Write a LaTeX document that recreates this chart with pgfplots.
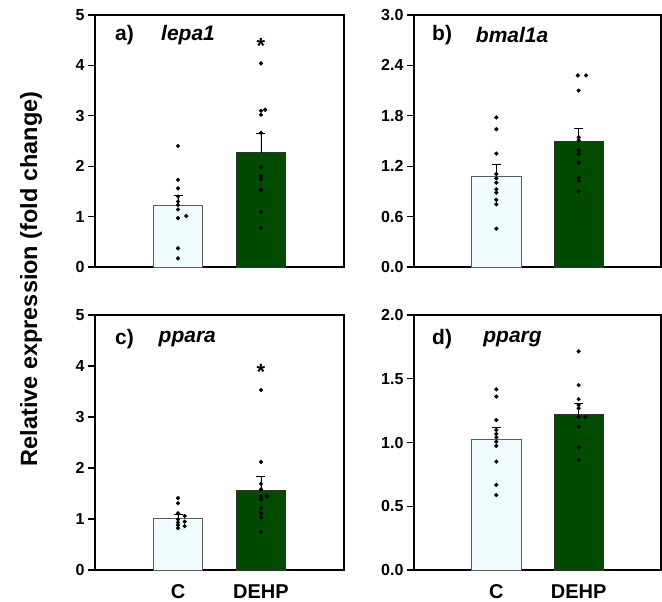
\documentclass[border=0pt]{standalone}
\usepackage{pgfplots}
\pgfplotsset{compat=1.18}
\usepackage{fontspec}
\setmainfont{Liberation Sans}

\definecolor{ctrl}{RGB}{240,252,255}
\definecolor{dehp}{RGB}{0,75,0}
\definecolor{ctrledge}{RGB}{90,90,90}

\pgfplotsset{
  panel/.style={
    scale only axis, clip=false,
    xmin=0, xmax=3, ymin=0,
    axis line style={line width=1.3pt},
    tick align=outside, ytick pos=left,
    xtick=\empty,
    major tick length=7pt,
    tick style={line width=1.2pt, black},
    ticklabel style={font=\bfseries\fontsize{16}{16}\selectfont},
    /pgf/number format/assume math mode=true,
  },
  bottomrow/.style={
    xtick={1,2}, xticklabels={C,DEHP},
    x tick style={draw=none},
    x tick label style={font=\bfseries\fontsize{20}{20}\selectfont, yshift=-4pt},
  },
  cbar/.style={ybar, bar shift=0pt, bar width=0.6, fill=ctrl, draw=ctrledge, line width=0.8pt,
    error bars/.cd, y dir=plus, y explicit,
    error bar style={black, line width=0.8pt},
    error mark options={rotate=90, mark size=4.5pt, black, line width=0.8pt}},
  dbar/.style={ybar, bar shift=0pt, bar width=0.6, fill=dehp, draw=black!80, line width=0.8pt,
    error bars/.cd, y dir=plus, y explicit,
    error bar style={black, line width=0.8pt},
    error mark options={rotate=90, mark size=4.5pt, black, line width=0.8pt}},
  dots/.style={only marks, mark=*, mark size=1.9pt, black},
}
\tikzset{
  plabel/.style={font=\bfseries\fontsize{21}{21}\selectfont, anchor=west, inner xsep=0pt},
  gene/.style={font=\bfseries\itshape\fontsize{21}{21}\selectfont, anchor=west, inner xsep=0pt},
  star/.style={font=\bfseries\fontsize{22}{22}\selectfont},
}

\begin{document}
\begin{tikzpicture}
\useasboundingbox (0,0) rectangle (662pt,602pt);

% a) lepa1
\begin{axis}[panel, at={(95pt,335pt)}, anchor=south west, width=249pt, height=252pt,
  ymax=5, ytick={0,1,2,3,4,5}]
  \addplot[cbar] coordinates {(1,1.22) +- (0,0.21)};
  \addplot[dbar] coordinates {(2,2.27) +- (0,0.39)};
  \addplot[dots] coordinates {(1,2.40) (1,1.73) (1,1.56) (1,1.40) (1,1.30) (1,1.23)
    (1,1.14) (1,0.97) (1.1,1.01) (1,0.37) (1,0.17)};
  \addplot[dots] coordinates {(2,4.04) (2,3.10) (2.05,3.12) (2,3.02) (2,2.66) (2,1.98)
    (2,1.81) (2,1.74) (2,1.53) (2,1.09) (2,0.77)};
  \node[star] at (axis cs:2,4.38) {*};
  \node[plabel] at (rel axis cs:0.08,0.92) {a)};
  \node[gene] at (rel axis cs:0.265,0.92) {lepa1};
\end{axis}

% b) bmal1a
\begin{axis}[panel, at={(414pt,335pt)}, anchor=south west, width=247pt, height=252pt,
  ymax=3, ytick={0,0.6,1.2,1.8,2.4,3.0},
  yticklabel style={/pgf/number format/.cd, fixed, fixed zerofill, precision=1}]
  \addplot[cbar] coordinates {(1,1.083) +- (0,0.143)};
  \addplot[dbar] coordinates {(2,1.49) +- (0,0.165)};
  \addplot[dots] coordinates {(1,1.78) (1,1.64) (1,1.35) (1,1.107) (1,1.056) (1,1.004)
    (1,0.925) (1,0.885) (1,0.80) (1,0.746) (1,0.456)};
  \addplot[dots] coordinates {(1.99,2.28) (2.09,2.28) (2,2.10) (2,1.544) (2,1.51) (2,1.39)
    (2,1.345) (2,1.24) (2,1.063) (2,1.024) (2,0.90)};
  \node[plabel] at (rel axis cs:0.073,0.92) {b)};
  \node[gene] at (rel axis cs:0.25,0.92) {bmal1a};
\end{axis}

% c) ppara
\begin{axis}[panel, bottomrow, at={(95pt,32pt)}, anchor=south west, width=249pt, height=255pt,
  ymax=5, ytick={0,1,2,3,4,5}]
  \addplot[cbar] coordinates {(1,1.02) +- (0,0.065)};
  \addplot[dbar] coordinates {(2,1.57) +- (0,0.27)};
  \addplot[dots] coordinates {(1,1.41) (1,1.31) (1,1.11) (1.08,1.06) (1,0.99) (1,0.93)
    (1.08,0.95) (1,0.88) (1.08,0.86) (1,0.82)};
  \addplot[dots] coordinates {(2,3.53) (2,2.12) (2,1.69) (2,1.58) (2,1.45) (2.07,1.45)
    (2,1.39) (2,1.21) (2,1.11) (2,1.03) (2,0.74)};
  \node[star] at (axis cs:2,3.88) {*};
  \node[plabel] at (rel axis cs:0.08,0.906) {c)};
  \node[gene] at (rel axis cs:0.255,0.906) {ppara};
\end{axis}

% d) pparg
\begin{axis}[panel, bottomrow, at={(414pt,32pt)}, anchor=south west, width=247pt, height=255pt,
  ymax=2, ytick={0,0.5,1.0,1.5,2.0},
  yticklabel style={/pgf/number format/.cd, fixed, fixed zerofill, precision=1}]
  \addplot[cbar] coordinates {(1,1.025) +- (0,0.091)};
  \addplot[dbar] coordinates {(2,1.221) +- (0,0.083)};
  \addplot[dots] coordinates {(1,1.417) (1,1.36) (1,1.176) (1,1.098) (1,1.067) (1,1.04)
    (1,1.006) (1,0.973) (1,0.85) (1,0.667) (1,0.588)};
  \addplot[dots] coordinates {(2,1.715) (2,1.45) (2,1.34) (2,1.294) (2,1.268) (2.08,1.20)
    (2,1.20) (2,1.124) (2,0.962) (2,0.863)};
  \node[plabel] at (rel axis cs:0.073,0.906) {d)};
  \node[gene] at (rel axis cs:0.28,0.906) {pparg};
\end{axis}

\node[rotate=90, font=\bfseries\fontsize{23.5}{23.5}\selectfont] at (31pt,323pt)
  {Relative expression (fold change)};
\end{tikzpicture}
\end{document}
